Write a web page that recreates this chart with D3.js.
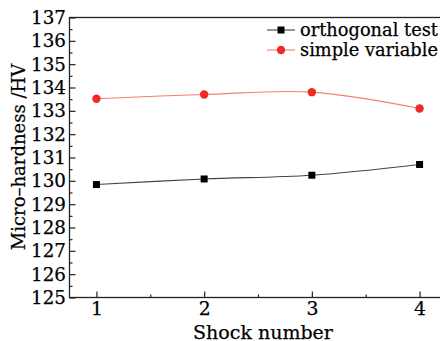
<!DOCTYPE html>
<html><head><meta charset="utf-8">
<script src="https://cdn.jsdelivr.net/npm/d3@7/dist/d3.min.js"></script>
<style>html,body{margin:0;padding:0;background:#fff;overflow:hidden}</style>
</head><body>
<svg id="chart" width="440" height="341"></svg>
<script>
const shocks = [1, 2, 3, 4];
const orthogonalTest = [129.84, 130.08, 130.24, 130.70];
const simpleVariable = [133.52, 133.70, 133.80, 133.10];
const yTicks = [125,126,127,128,129,130,131,132,133,134,135,136,137];
const xTicks = [1, 2, 3, 4];
const seriesNames = ["orthogonal test", "simple variable"];

const svg = d3.select("#chart");
const font = "'DejaVu Serif', serif";
const mLeft = 69.5, mTop = 17.5, mBottom = 297.5;
const x = d3.scaleLinear().domain([0.75, 4.25]).range([mLeft, mLeft + 377]);
const y = d3.scaleLinear().domain([125, 137]).range([mBottom, mTop]);

svg.append("rect").attr("width", 440).attr("height", 341).attr("fill", "#fff");

// frame
svg.append("rect").attr("x", mLeft).attr("y", mTop)
  .attr("width", x(4.25) - mLeft).attr("height", mBottom - mTop)
  .attr("fill", "none").attr("stroke", "#222").attr("stroke-width", 1.3);

function styleText(sel, size) {
  sel.attr("font-family", font).attr("font-size", size).attr("fill", "#000")
     .attr("stroke", "#000").attr("stroke-width", 0.25);
}

// y axis
const yAx = svg.append("g").attr("transform", `translate(${mLeft},0)`)
  .call(d3.axisLeft(y).tickValues(yTicks).tickSize(-6).tickPadding(3.5).tickFormat(d3.format("d")));
const yMinor = svg.append("g").attr("transform", `translate(${mLeft},0)`)
  .call(d3.axisLeft(y).tickValues(d3.range(125.5, 137, 1)).tickSize(-3).tickFormat(""));
// x axis
const xAx = svg.append("g").attr("transform", `translate(0,${mBottom})`)
  .call(d3.axisBottom(x).tickValues(xTicks).tickSize(-6).tickPadding(4.5).tickFormat(d3.format("d")));
const xMinor = svg.append("g").attr("transform", `translate(0,${mBottom})`)
  .call(d3.axisBottom(x).tickValues([1.5, 2.5, 3.5]).tickSize(-3).tickFormat(""));
[yAx, yMinor, xAx, xMinor].forEach(g => {
  g.select(".domain").remove();
  g.selectAll("line").attr("stroke", "#222").attr("stroke-width", 1.2);
});
styleText(yAx.selectAll("text"), 18.3);
styleText(xAx.selectAll("text"), 18.8);
xAx.selectAll("text").attr("dy", "0.71em");

// series
const line = d3.line().curve(d3.curveCatmullRom.alpha(0.5)).x(d => x(d[0])).y(d => y(d[1]));
const blackData = shocks.map((s, i) => [s, orthogonalTest[i]]);
const redData = shocks.map((s, i) => [s, simpleVariable[i]]);

svg.append("path").datum(blackData).attr("d", line).attr("fill", "none")
  .attr("stroke", "#444").attr("stroke-width", 1.1);
svg.append("path").datum(redData).attr("d", line).attr("fill", "none")
  .attr("stroke", "#f3806f").attr("stroke-width", 1.1);

svg.selectAll(".sq").data(blackData).enter().append("rect")
  .attr("x", d => x(d[0]) - 3.5).attr("y", d => y(d[1]) - 3.5)
  .attr("width", 7).attr("height", 7).attr("fill", "#000");
svg.selectAll(".ci").data(redData).enter().append("circle")
  .attr("cx", d => x(d[0])).attr("cy", d => y(d[1])).attr("r", 4.2).attr("fill", "#ee2b24");

// legend
const lg = svg.append("g");
const rows = [30, 50];
lg.append("line").attr("x1", 267).attr("x2", 295).attr("y1", rows[0]).attr("y2", rows[0]).attr("stroke", "#444").attr("stroke-width", 1.1);
lg.append("rect").attr("x", 281 - 3.5).attr("y", rows[0] - 3.5).attr("width", 7).attr("height", 7).attr("fill", "#000");
lg.append("line").attr("x1", 267).attr("x2", 295).attr("y1", rows[1]).attr("y2", rows[1]).attr("stroke", "#f3806f").attr("stroke-width", 1.1);
lg.append("circle").attr("cx", 281).attr("cy", rows[1]).attr("r", 4.2).attr("fill", "#ee2b24");
seriesNames.forEach((n, i) => {
  styleText(lg.append("text").attr("x", 300).attr("y", rows[i]).attr("dy", "0.33em").text(n), 17.8);
});

// axis titles
styleText(svg.append("text").attr("x", 263).attr("y", 338.5).attr("text-anchor", "middle")
  .text("Shock number"), 19);
styleText(svg.append("text").attr("transform", `translate(25,157) rotate(-90)`).attr("text-anchor", "middle")
  .text("Micro–hardness /HV"), 18);
</script>
</body></html>
